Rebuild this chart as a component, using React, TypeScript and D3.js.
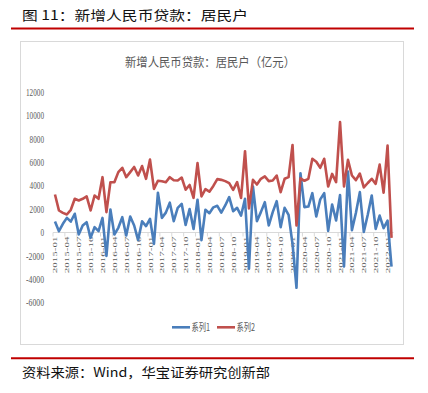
import React from "react";
import * as d3 from "d3";

const categories = [
  "2015-01","2015-02","2015-03","2015-04","2015-05","2015-06","2015-07","2015-08","2015-09","2015-10","2015-11","2015-12",
  "2016-01","2016-02","2016-03","2016-04","2016-05","2016-06","2016-07","2016-08","2016-09","2016-10","2016-11","2016-12",
  "2017-01","2017-02","2017-03","2017-04","2017-05","2017-06","2017-07","2017-08","2017-09","2017-10","2017-11","2017-12",
  "2018-01","2018-02","2018-03","2018-04","2018-05","2018-06","2018-07","2018-08","2018-09","2018-10","2018-11","2018-12",
  "2019-01","2019-02","2019-03","2019-04","2019-05","2019-06","2019-07","2019-08","2019-09","2019-10","2019-11","2019-12",
  "2020-01","2020-02","2020-03","2020-04","2020-05","2020-06","2020-07","2020-08","2020-09","2020-10","2020-11","2020-12",
  "2021-01","2021-02","2021-03","2021-04","2021-05","2021-06","2021-07","2021-08","2021-09","2021-10","2021-11","2021-12",
  "2022-01","2022-02",
];

const series1 = [
  940, 110, 740, 1250, 940, 1600, -170, 600, 880, -460, 460, 110,
  1250, -2000, 1970, -170, 400, 1310, -260, 1370, 600, -650, 950, 550,
  1170, -970, 3400, 1250, 1700, 2550, 970, 2100, 2450, 650, 2000, 300,
  2800, -650, 1950, 1650, 2150, 2280, 1700, 2310, 3020, 1820, 2110, 1450,
  2880, -3100, 3930, 970, 1740, 2590, 600, 1740, 2680, 460, 2110, 1500,
  -1000, -4728, 5070, 2170, 2220, 3360, 1370, 2830, 3360, 140, 2390, 1030,
  3200, -2900, 5200, 200, 1670, 3450, 50, 1520, 3160, 310, 1450, 380,
  1006, -2910,
];

const series2 = [
  3250, 1880, 1680, 1540, 1940, 2880, 2740, 2880, 3080, 1880, 3160, 2880,
  4730, 1740, 4300, 4300, 5160, 5530, 4730, 5160, 5600, 4870, 5680, 4590,
  6234, 3730, 4420, 4380, 4300, 4730, 4470, 4450, 4700, 3660, 4060, 2960,
  5930, 3080, 3700, 3490, 3980, 4560, 4500, 4390, 4220, 3650, 4300, 2960,
  6950, 2060, 4500, 4100, 4590, 4790, 4390, 4440, 4870, 3450, 4590, 4730,
  7480, 595, 4630, 4420, 4590, 6300, 6050, 5530, 6300, 3930, 5010, 4300,
  9430, 3930, 6210, 4870, 4470, 5040, 3850, 4230, 4590, 4160, 5800, 3400,
  7424, -459,
];

const xTickLabels = [
  "2015-01","2015-04","2015-07","2015-10","2016-01","2016-04","2016-07","2016-10",
  "2017-01","2017-04","2017-07","2017-10","2018-01","2018-04","2018-07","2018-10",
  "2019-01","2019-04","2019-07","2019-10","2020-01","2020-04","2020-07","2020-10",
  "2021-01","2021-04","2021-07","2021-10","2022-01",
];

const yTicks = [12000, 10000, 8000, 6000, 4000, 2000, 0, -2000, -4000, -6000];

const seriesNames = ["系列1", "系列2"];
const seriesColors = ["#4a7ebb", "#c0504d"];

const headerText = "图 11：新增人民币贷款：居民户";
const chartTitle = "新增人民币贷款：居民户（亿元）";
const sourceText = "资料来源：Wind，华宝证券研究创新部";

export default function App() {
  const W = 428;
  const H = 393;
  const x = d3.scaleBand<string>().domain(categories).range([53, 393.5]).padding(0);
  const bw = x.bandwidth();
  const cx = (c: string) => (x(c) as number) + bw / 2;
  const y = d3.scaleLinear().domain([-6000, 12000]).range([302.7, 92.1]);

  const line = d3
    .line<number>()
    .x((_, i) => cx(categories[i]))
    .y((v) => y(v));

  const all = [series1, series2];
  const cjk = "'Noto Sans CJK SC', 'Noto Sans', sans-serif";
  const serif = "'Liberation Serif', 'DejaVu Serif', serif";

  // tick positions between categories, every 3 months
  const tickCats = categories.filter((_, i) => i % 3 === 0);

  return (
    <svg width={W} height={H} style={{ position: "absolute", left: 0, top: 0, background: "#fff" }}>
      <rect x={0} y={0} width={W} height={H} fill="#fff" />
      <text x={22} y={20} fontFamily={cjk} fontSize={13} fill="#111" textLength={226} lengthAdjust="spacingAndGlyphs">
        {headerText}
      </text>
      <line x1={11} x2={414} y1={28.5} y2={28.5} stroke="#c00000" strokeWidth={2} />

      <rect x={20.5} y={41.5} width={383} height={303} fill="#fff" stroke="#d9d9d9" strokeWidth={1} />

      <text x={125} y={67} fontFamily={cjk} fontSize={12.5} fill="#595959" textLength={170} lengthAdjust="spacingAndGlyphs">
        {chartTitle}
      </text>

      {yTicks.map((t) => {
        const s = String(t);
        return (
          <text
            key={t}
            x={44}
            y={y(t)}
            dy="0.35em"
            textAnchor="end"
            fontFamily={serif}
            fontSize={10.5}
            fill="#595959"
            textLength={s.length * 3.6}
            lengthAdjust="spacingAndGlyphs"
          >
            {s}
          </text>
        );
      })}

      <line x1={53} x2={393.5} y1={y(0)} y2={y(0)} stroke="#d9d9d9" strokeWidth={1} />
      {tickCats.map((c) => (
        <line key={c} x1={(x(c) as number) - 0.5 * 0} x2={(x(c) as number)} y1={y(0)} y2={y(0) + 4} stroke="#d9d9d9" strokeWidth={1} />
      ))}

      {xTickLabels.map((lab) => (
        <text
          key={lab}
          transform={`translate(${cx(lab)},${y(0) + 4}) rotate(-90) scale(1,0.65)`}
          textAnchor="end"
          dy="0.35em"
          fontFamily={serif}
          fontSize={11}
          fill="#595959"
        >
          {lab}
        </text>
      ))}

      {all.map((s, i) => (
        <path key={i} d={line(s) || ""} fill="none" stroke={seriesColors[i]} strokeWidth={2.6} strokeLinejoin="round" />
      ))}

      {seriesNames.map((n, i) => {
        const lx = 172 + i * 45;
        return (
          <g key={n}>
            <line x1={lx} x2={lx + 18} y1={327.3} y2={327.3} stroke={seriesColors[i]} strokeWidth={2.6} />
            <text x={lx + 19.5} y={327.3} dy="0.35em" fontFamily={cjk} fontSize={10} fill="#595959" textLength={18.5} lengthAdjust="spacingAndGlyphs">
              {n}
            </text>
          </g>
        );
      })}

      <line x1={11} x2={414} y1={358.3} y2={358.3} stroke="#c00000" strokeWidth={2} />
      <text x={22} y={377} fontFamily={cjk} fontSize={13} fill="#111" textLength={248} lengthAdjust="spacingAndGlyphs">
        {sourceText}
      </text>
    </svg>
  );
}
